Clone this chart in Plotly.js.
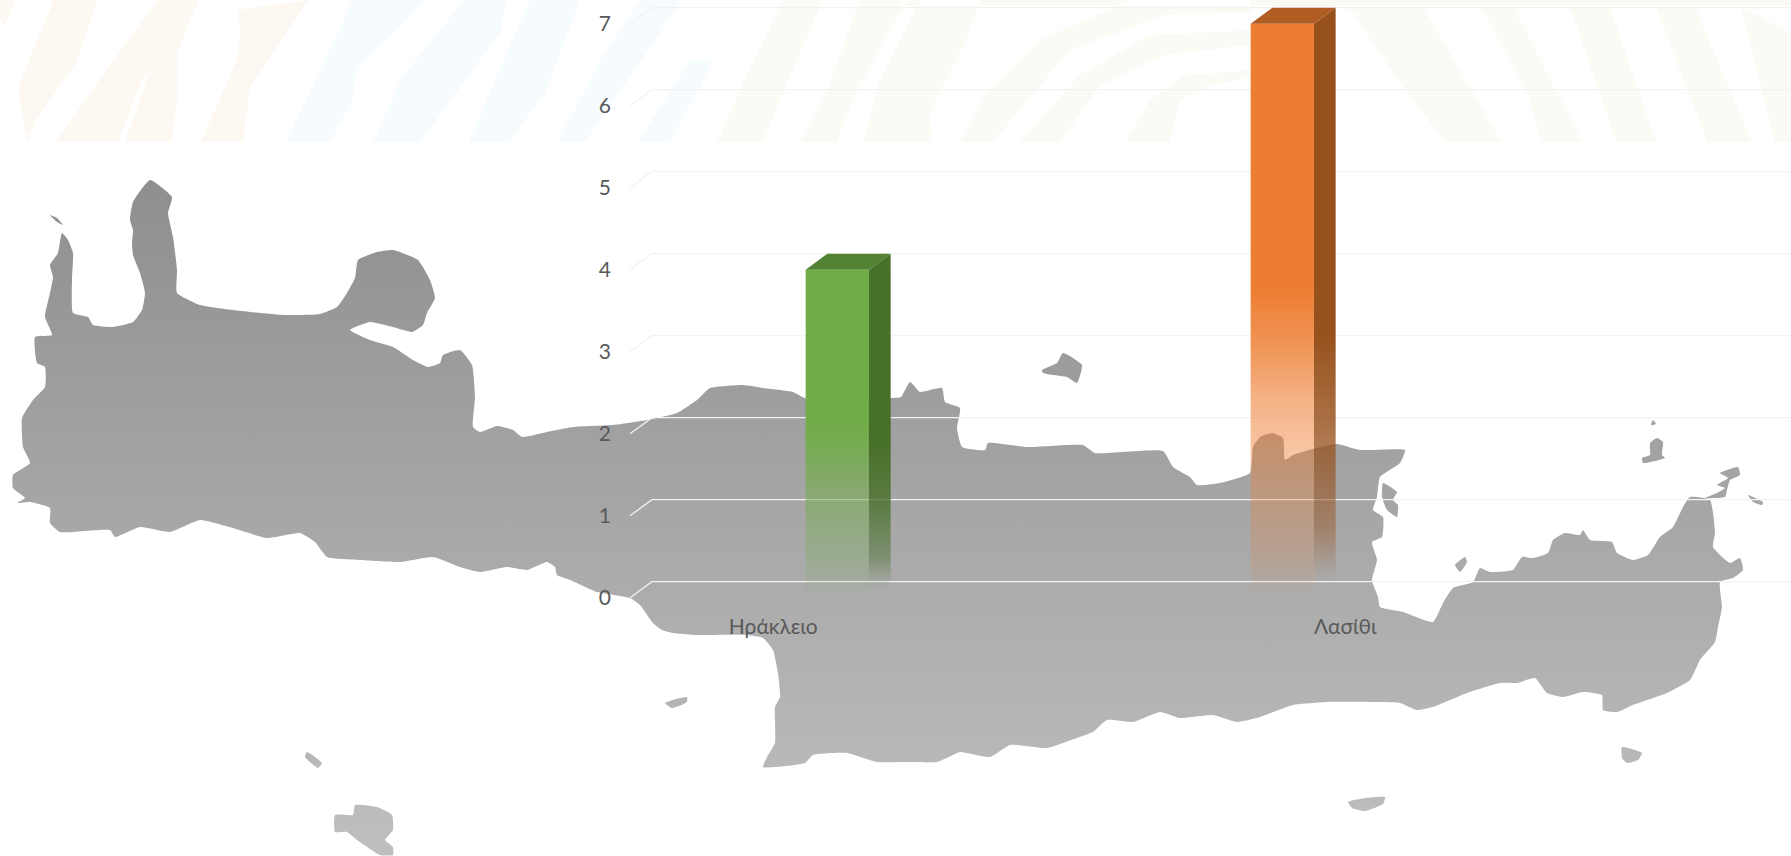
<!DOCTYPE html>
<html><head><meta charset="utf-8">
<script src="https://cdn.plot.ly/plotly-3.0.1.min.js"></script>
<style>html,body{margin:0;padding:0;background:#fff}#c{width:1791px;height:856px}</style>
</head><body><div id="c"></div>
<script>
// ---- chart values ----
const categories = ['Ηράκλειο', 'Λασίθι'];
const values = [4, 7];
const yTicks = [0, 1, 2, 3, 4, 5, 6, 7];
const frontColors = ['#70ad47', '#ed7d31'];
const sideColors = ['71,112,41', '151,81,28'];
const topColors = ['#548235', '#b05c22'];

// ---- background artwork (page pixels) ----
const crete = [[35,337],[52,335],[45,317],[50,293],[53,277],[50,265],[58,253],[62,233],[68,240],[73,253],[72,280],[73,313],[88,317],[93,325],[113,327],[133,322],[142,310],[145,293],[140,273],[133,255],[132,243],[133,230],[130,220],[133,202],[150,180],[172,197],[168,213],[173,237],[177,270],[177,293],[200,305],[233,310],[283,315],[320,314],[337,307],[347,293],[355,278],[358,260],[377,252],[393,250],[418,260],[430,280],[435,298],[427,313],[423,325],[412,332],[393,327],[370,322],[350,330],[370,340],[393,347],[413,360],[428,367],[440,363],[443,355],[460,350],[472,365],[475,397],[473,427],[480,432],[497,426],[513,430],[522,437],[547,432],[573,427],[613,425],[647,420],[677,413],[697,400],[710,388],[743,385],[763,388],[793,392],[805,398],[891,398],[901,397],[910,382],[920,392],[942,388],[945,402],[960,408],[957,428],[962,447],[985,450],[988,443],[1027,447],[1083,445],[1095,453],[1163,451],[1173,467],[1190,477],[1197,485],[1220,483],[1250,473],[1253,447],[1260,437],[1272,433],[1283,438],[1285,460],[1293,455],[1320,447],[1337,444],[1360,450],[1405,450],[1400,463],[1380,477],[1377,497],[1373,510],[1383,517],[1382,537],[1372,542],[1377,560],[1372,580],[1378,597],[1380,607],[1403,612],[1433,622],[1443,603],[1453,588],[1473,582],[1480,568],[1490,572],[1513,570],[1522,557],[1533,558],[1548,553],[1553,540],[1565,533],[1580,535],[1583,530],[1590,540],[1612,542],[1617,553],[1633,560],[1648,555],[1660,537],[1673,527],[1683,507],[1690,497],[1710,500],[1715,533],[1713,547],[1730,563],[1740,558],[1743,570],[1733,578],[1720,582],[1722,607],[1718,627],[1715,642],[1700,660],[1690,680],[1667,693],[1633,705],[1617,712],[1603,710],[1602,695],[1583,692],[1563,697],[1547,693],[1535,678],[1517,683],[1500,683],[1467,693],[1433,707],[1417,710],[1400,703],[1367,702],[1327,702],[1293,705],[1260,717],[1237,722],[1213,715],[1180,718],[1160,712],[1133,722],[1107,720],[1093,732],[1077,738],[1047,748],[1010,745],[990,757],[960,752],[953,755],[937,762],[903,762],[877,762],[847,753],[813,755],[805,763],[763,767],[767,757],[775,743],[775,707],[780,697],[778,673],[773,650],[763,638],[747,635],[697,635],[673,633],[662,630],[653,623],[640,605],[630,598],[597,592],[570,580],[557,575],[555,567],[547,562],[527,570],[507,567],[480,572],[460,567],[433,557],[400,562],[360,560],[327,557],[315,542],[300,533],[267,538],[233,528],[200,520],[170,532],[140,527],[115,537],[110,530],[60,532],[50,523],[50,508],[30,502],[17,503],[25,498],[13,488],[13,475],[30,463],[23,447],[22,418],[33,400],[45,387],[45,367],[37,363]];
const islets = [
 [[50,215],[57,218],[63,225],[57,222]],
 [[1042,370],[1057,363],[1063,353],[1082,365],[1077,383],[1067,377],[1053,375],[1043,373]],
 [[1383,483],[1397,492],[1393,500],[1398,505],[1397,517],[1387,510],[1382,497]],
 [[1650,443],[1657,438],[1663,442],[1662,455],[1665,458],[1643,463],[1642,458],[1650,455]],
 [[1653,420],[1656,424],[1651,425]],
 [[1720,473],[1738,467],[1740,475],[1730,480],[1727,490],[1725,497],[1705,498],[1717,493],[1725,488],[1717,485],[1728,478]],
 [[1748,495],[1763,502],[1762,505],[1753,502]],
 [[1455,565],[1465,557],[1467,562],[1460,572]],
 [[1622,747],[1642,753],[1638,760],[1627,763],[1622,758]],
 [[665,703],[680,698],[687,697],[687,702],[672,708]],
 [[1348,802],[1365,798],[1385,797],[1383,804],[1365,811],[1352,808]],
 [[307,752],[322,763],[318,768],[305,757]],
 [[335,815],[353,815],[355,805],[377,807],[392,815],[393,830],[385,840],[393,847],[393,855],[380,855],[357,840],[347,832],[335,832]]
];
const peachStripes = [
 [[54,0],[98,0],[76,63],[36,120],[27,142],[18,87]],
 [[56,142],[118,142],[143,77],[179,50],[196,0],[158,0],[116,57],[85,100]],
 [[125,142],[172,142],[177,100],[177,50],[199,0],[190,0],[150,70]],
 [[201,142],[243,142],[250,87],[308,0],[237,10],[241,30],[237,60],[219,100]],
 [[0,0],[16,0],[5,25],[0,20]]
];
const blueStripes = [
 [[286,142],[330,142],[353,100],[357,67],[397,30],[424,0],[353,0],[321,67]],
 [[373,142],[420,142],[500,33],[507,0],[464,0],[402,77]],
 [[469,142],[509,142],[545,93],[580,0],[530,0],[495,80]],
 [[558,142],[585,142],[660,33],[680,0],[640,0],[600,60]],
 [[638,142],[670,142],[700,87],[712,60],[690,60]]
];
const sandStripes = [
 [[717,142],[763,142],[787,83],[823,0],[783,0],[743,83]],
 [[800,142],[837,142],[857,90],[907,0],[860,0],[827,90]],
 [[863,142],[932,142],[930,113],[965,43],[980,0],[920,0],[880,80]],
 [[960,142],[993,142],[1070,50],[1165,15],[1250,12],[1250,0],[1130,0],[1040,40],[985,95]],
 [[1020,142],[1060,142],[1100,85],[1165,55],[1250,45],[1250,30],[1150,35],[1080,75]],
 [[1125,142],[1170,142],[1180,100],[1210,85],[1250,78],[1250,70],[1185,75],[1150,100]],
 [[1349,7],[1423,7],[1502,142],[1445,142],[1400,83]],
 [[1480,7],[1514,7],[1582,142],[1542,142],[1525,87]],
 [[1570,7],[1610,7],[1656,142],[1616,142]],
 [[1656,7],[1695,7],[1752,142],[1707,142]],
 [[1741,7],[1791,33],[1791,142],[1775,142]],
 [[900,0],[1791,0],[1791,6],[900,6]]
];

// ---- layout constants ----
const PAGE_W = 1791, PAGE_H = 856;
const PX_PER_UNIT_Y = 82, ZERO_PX = 597.7;
const PX_PER_SLOT = 445, FIRST_BAR_PX = 837.3, PLOT_LEFT = 630, PLOT_BOTTOM = 608;
const BAR_W = 63.3 / PX_PER_SLOT;
const DX = 21.7 / PX_PER_SLOT, DY = 16 / PX_PER_UNIT_Y;
const GX = 22 / PX_PER_SLOT;
const xLeft = (PLOT_LEFT - FIRST_BAR_PX) / PX_PER_SLOT;
const xRight = (PAGE_W - FIRST_BAR_PX) / PX_PER_SLOT;
const labelOffsets = [-0.144, 0.1416];
const barX = categories.map((_, i) => i);

function flat(polys, k) {
  const out = [];
  polys.forEach(p => { p.forEach(q => out.push(q[k])); out.push(p[0][k]); out.push(null); });
  return out;
}
function bgTrace(polys, color) {
  return {type:'scatter', mode:'lines', x:flat(polys,0), y:flat(polys,1), fill:'toself',
    fillcolor:color, line:{width:0}, hoverinfo:'skip', showlegend:false, xaxis:'x', yaxis:'y'};
}

const traces = [
  bgTrace(peachStripes, '#fdf8f2'),
  bgTrace(blueStripes, '#f6fbfe'),
  bgTrace(sandStripes, '#fbfbf5'),
  {type:'scatter', mode:'lines', x:flat([crete].concat(islets),0), y:flat([crete].concat(islets),1),
   fill:'toself', fillgradient:{type:'vertical', start:170, stop:856,
     colorscale:[[0,'#8e8e8e'],[1,'#bfbfbf']]},
   line:{width:0, shape:'spline', smoothing:0.45}, hoverinfo:'skip', showlegend:false, xaxis:'x', yaxis:'y'},
  {type:'bar', x:barX, y:values, width:BAR_W, marker:{color:frontColors, line:{width:0}},
   hoverinfo:'skip', showlegend:false, xaxis:'x2', yaxis:'y2'}
];
values.forEach((v,i) => {
  const r = barX[i] + BAR_W/2, l = barX[i] - BAR_W/2;
  const c = sideColors[i];
  traces.push({type:'scatter', mode:'lines', x:[r,r+DX,r+DX,r,r], y:[v,v+DY,DY,0,v], fill:'toself',
    fillgradient:{type:'vertical', start:v+DY, stop:0, colorscale:[[0,`rgba(${c},1)`],[0.55,`rgba(${c},1)`],[0.72,`rgba(${c},0.8)`],[0.88,`rgba(${c},0.45)`],[0.97,`rgba(${c},0)`],[1,`rgba(${c},0)`]]},
    line:{width:0}, hoverinfo:'skip', showlegend:false, xaxis:'x2', yaxis:'y2'});
  traces.push({type:'scatter', mode:'lines', x:[l,r,r+DX,l+DX,l], y:[v,v,v+DY,v+DY,v], fill:'toself',
    fillcolor:topColors[i], line:{width:0}, hoverinfo:'skip', showlegend:false, xaxis:'x2', yaxis:'y2'});
});

const gridShapes = yTicks.map(v => ({
  type:'path', xref:'x2', yref:'y2', layer:'below',
  path:`M ${xLeft} ${v} L ${xLeft+GX} ${v+DY} L ${xRight} ${v+DY}`,
  line:{color:'#f2f2f2', width:1.3}
}));

const tickFont = {family:'Lato, "Noto Sans", sans-serif', size:21, color:'#595959'};
const layout = {
  width:PAGE_W, height:PAGE_H, margin:{l:0,r:0,t:0,b:0,pad:0}, autosize:false,
  paper_bgcolor:'#fff', plot_bgcolor:'rgba(0,0,0,0)', showlegend:false, barmode:'overlay',
  shapes:gridShapes,
  xaxis:{domain:[0,1], range:[0,PAGE_W], visible:false, fixedrange:true},
  yaxis:{domain:[0,1], range:[PAGE_H,0], visible:false, fixedrange:true},
  xaxis2:{anchor:'y2', domain:[PLOT_LEFT/PAGE_W,1], range:[xLeft,xRight], tickmode:'array',
    tickvals:barX.map((x,i)=>x+labelOffsets[i]), ticktext:categories, showgrid:false, zeroline:false,
    showline:false, ticks:'', tickfont:tickFont, ticklabelstandoff:4, fixedrange:true},
  yaxis2:{anchor:'x2', domain:[(PAGE_H-PLOT_BOTTOM)/PAGE_H,1],
    range:[(ZERO_PX-PLOT_BOTTOM)/PX_PER_UNIT_Y, ZERO_PX/PX_PER_UNIT_Y], tickmode:'array', tickvals:yTicks,
    showgrid:false, zeroline:false, showline:false, ticks:'', tickfont:tickFont, ticklabelstandoff:18, fixedrange:true}
};

Plotly.newPlot('c', traces, layout, {staticPlot:true, displayModeBar:false}).then(gd => {
  // Fade each bar's front face towards the baseline.
  const svg = gd.querySelector('.main-svg');
  const NS = 'http://www.w3.org/2000/svg';
  let defs = svg.querySelector('defs');
  gd.querySelectorAll('.bars .point path').forEach((p,i) => {
    const g = document.createElementNS(NS,'linearGradient');
    g.setAttribute('id','barFade'+i);
    g.setAttribute('x1','0'); g.setAttribute('y1','0'); g.setAttribute('x2','0'); g.setAttribute('y2','1');
    [[0,1],[0.46,1],[0.56,0.82],[0.66,0.58],[0.8,0.36],[0.93,0.18],[1,0]].forEach(s => {
      const st = document.createElementNS(NS,'stop');
      st.setAttribute('offset', s[0]); st.setAttribute('stop-color', frontColors[i]); st.setAttribute('stop-opacity', s[1]);
      g.appendChild(st);
    });
    defs.appendChild(g);
    p.style.fill = `url(#barFade${i})`;
  });
});
</script></body></html>
